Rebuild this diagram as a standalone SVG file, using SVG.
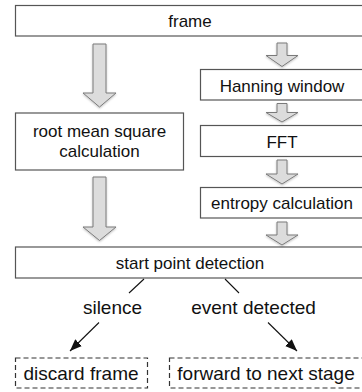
<svg xmlns="http://www.w3.org/2000/svg" width="362" height="392" viewBox="0 0 362 392">
<style>
.box{fill:#fff;stroke:#555;stroke-width:1.2}
.dbox{fill:#fff;stroke:#333;stroke-width:1.2;stroke-dasharray:5 3}
.t{font-family:"Liberation Sans",Arial,sans-serif;font-size:17px;fill:#111;text-anchor:middle}
.l{font-family:"Liberation Sans",Arial,sans-serif;font-size:19px;fill:#111;text-anchor:middle}
.bar{fill:#dcdcdc;stroke:#7a7a7a;stroke-width:1}
.ln{fill:none;stroke:#111;stroke-width:1.1}
</style>
<defs>
<marker id="ah" viewBox="0 0 10 8" refX="10" refY="4" markerWidth="12" markerHeight="10" markerUnits="userSpaceOnUse" orient="auto">
<path d="M0,0 L10,4 L0,8 Z" fill="#111"/>
</marker>
<filter id="sh" x="-20%" y="-20%" width="140%" height="140%">
<feDropShadow dx="0" dy="1" stdDeviation="0.8" flood-color="#000" flood-opacity="0.25"/>
</filter>
</defs>
<g id="frame"><rect class="box" x="15.5" y="5.5" width="350" height="30.5"/><text class="t" x="190" y="27">frame</text></g>
<g id="hanning"><rect class="box" x="200.5" y="69.5" width="165" height="30.5"/><text class="t" x="282" y="91.5">Hanning window</text></g>
<g id="rms"><rect class="box" x="15.5" y="113" width="168" height="57"/><text class="t" x="99.5" y="137">root mean square</text><text class="t" x="99.5" y="157">calculation</text></g>
<g id="fft"><rect class="box" x="200.5" y="125.5" width="165" height="31"/><text class="t" x="282" y="147.5">FFT</text></g>
<g id="entropy"><rect class="box" x="200.5" y="187.5" width="165" height="30.5"/><text class="t" x="282" y="209">entropy calculation</text></g>
<g id="start"><rect class="box" x="15.5" y="247" width="350" height="31"/><text class="t" x="190" y="269">start point detection</text></g>
<g id="discard"><rect class="dbox" x="15.5" y="358" width="132" height="30"/><text class="l" x="81" y="380">discard frame</text></g>
<g id="forward"><rect class="dbox" x="169.5" y="358" width="196" height="30"/><text class="l" x="266" y="380">forward to next stage</text></g>
<g id="connectors">
<g filter="url(#sh)">
<path class="bar" d="M93,44 H106 V93 H116 L99.5,107 L83,93 H93 Z"/>
<path class="bar" d="M93,177 H106 V227 H116 L99.5,240.5 L83,227 H93 Z"/>
<path class="bar" d="M277,43 H287 V55.5 H298 L282,66.5 L266,55.5 H277 Z"/>
<path class="bar" d="M277,103.5 H287 V112.5 H298 L282,122 L266,112.5 H277 Z"/>
<path class="bar" d="M277,160 H287 V174 H298 L282,184 L266,174 H277 Z"/>
<path class="bar" d="M277,222 H287 V235 H298 L282,245 L266,235 H277 Z"/>
</g>
<path class="ln" d="M144,279 L129,293"/>
<path class="ln" d="M99,322.5 L70,351" marker-end="url(#ah)"/>
<path class="ln" d="M225,279 L239,293"/>
<path class="ln" d="M268,322.5 L297,351" marker-end="url(#ah)"/>
<text class="l" x="112.5" y="314">silence</text>
<text class="l" x="253.5" y="314">event detected</text>
</g>
</svg>
